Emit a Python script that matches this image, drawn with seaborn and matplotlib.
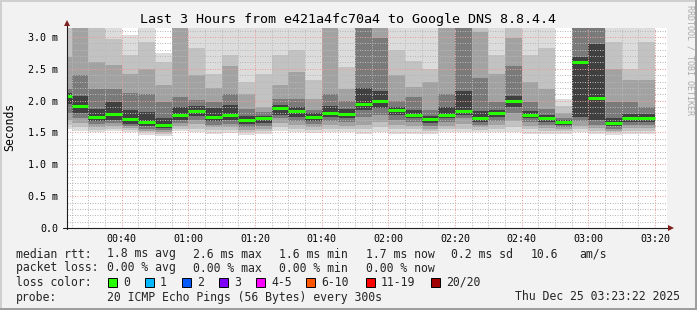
import matplotlib
matplotlib.use('Agg')
import matplotlib.pyplot as plt
from matplotlib.lines import Line2D
from matplotlib.patches import Polygon, Rectangle
import numpy as np
import pandas as pd
import seaborn as sns

W, H = 697, 310

# ---------------- data ----------------
end_times = ['00:25', '00:30', '00:35', '00:40', '00:45', '00:50', '00:55', '01:00', '01:05',
             '01:10', '01:15', '01:20', '01:25', '01:30', '01:35', '01:40', '01:45', '01:50',
             '01:55', '02:00', '02:05', '02:10', '02:15', '02:20', '02:25', '02:30', '02:35',
             '02:40', '02:45', '02:50', '02:55', '03:00', '03:05', '03:10', '03:15', '03:20']

median_ms = [2.07, 1.92, 1.75, 1.79, 1.71, 1.66, 1.62, 1.78, 1.84, 1.75, 1.77, 1.70,
             1.72, 1.89, 1.84, 1.75, 1.81, 1.79, 1.95, 1.99, 1.85, 1.78, 1.71, 1.77,
             1.84, 1.73, 1.80, 1.99, 1.78, 1.72, 1.66, 2.61, 2.04, 1.65, 1.73, 1.72]

# smoke bands (outermost = 1 ... innermost = 5), upper and lower edges in ms
hi1 = [3.30, 3.50, 3.30, 3.40, 3.03, 3.30, 2.74, 3.50, 3.30, 3.40, 3.40, 3.20,
       3.20, 3.30, 3.30, 3.30, 3.50, 3.30, 3.60, 3.50, 3.30, 3.30, 3.30, 3.50,
       3.60, 3.40, 3.50, 3.30, 3.30, 3.30, 2.03, 3.60, 3.60, 3.30, 3.30, 3.30]
hi2 = [3.20, 3.40, 3.20, 2.97, 2.71, 2.92, 2.61, 3.40, 2.83, 2.42, 2.71, 2.30,
       2.42, 2.71, 2.79, 2.32, 3.40, 2.53, 3.50, 3.40, 2.79, 2.62, 2.50, 3.40,
       3.50, 3.30, 2.71, 3.40, 2.71, 2.82, 1.91, 3.50, 3.50, 2.92, 2.50, 2.92]
hi3 = [2.68, 3.30, 2.60, 2.56, 2.42, 2.50, 2.24, 3.30, 2.40, 2.20, 2.55, 2.11,
       1.90, 2.24, 2.45, 2.03, 3.30, 2.19, 3.40, 3.30, 2.40, 2.21, 2.29, 3.30,
       3.40, 3.08, 2.42, 2.99, 2.29, 2.19, 1.80, 3.40, 3.40, 2.50, 2.32, 2.32]
hi4 = [2.19, 2.40, 2.19, 2.18, 2.12, 2.10, 1.98, 2.05, 2.01, 1.98, 2.10, 1.87,
       1.82, 2.02, 2.03, 1.86, 2.10, 2.00, 3.30, 2.99, 2.00, 2.06, 1.85, 2.10,
       3.30, 2.35, 1.98, 2.55, 1.98, 1.87, 1.73, 3.30, 3.30, 1.98, 1.98, 1.90]
hi5 = [2.12, 2.08, 1.87, 1.98, 1.85, 1.82, 1.72, 1.90, 1.92, 1.88, 1.93, 1.76,
       1.76, 1.93, 1.90, 1.80, 1.92, 1.87, 2.20, 2.15, 1.90, 1.85, 1.76, 1.90,
       2.15, 1.83, 1.85, 2.08, 1.83, 1.77, 1.69, 2.68, 2.89, 1.72, 1.79, 1.79]
lo5 = [1.95, 1.80, 1.68, 1.70, 1.64, 1.60, 1.57, 1.70, 1.76, 1.68, 1.70, 1.63,
       1.65, 1.78, 1.75, 1.68, 1.74, 1.72, 1.85, 1.88, 1.77, 1.72, 1.65, 1.72,
       1.78, 1.67, 1.74, 1.90, 1.72, 1.66, 1.62, 1.75, 1.70, 1.60, 1.66, 1.66]
lo4 = [1.80, 1.72, 1.63, 1.65, 1.60, 1.56, 1.54, 1.65, 1.70, 1.62, 1.64, 1.58,
       1.60, 1.72, 1.68, 1.63, 1.68, 1.66, 1.75, 1.78, 1.70, 1.66, 1.60, 1.66,
       1.72, 1.62, 1.68, 1.80, 1.66, 1.61, 1.58, 1.68, 1.62, 1.56, 1.61, 1.61]
lo3 = [1.70, 1.65, 1.58, 1.60, 1.57, 1.53, 1.51, 1.60, 1.63, 1.58, 1.59, 1.54,
       1.56, 1.65, 1.62, 1.58, 1.62, 1.60, 1.62, 1.66, 1.62, 1.60, 1.56, 1.60,
       1.64, 1.58, 1.62, 1.68, 1.60, 1.57, 1.55, 1.60, 1.57, 1.53, 1.57, 1.57]
lo2 = [1.62, 1.58, 1.54, 1.56, 1.54, 1.50, 1.48, 1.56, 1.56, 1.54, 1.54, 1.50,
       1.52, 1.58, 1.56, 1.54, 1.56, 1.55, 1.55, 1.58, 1.55, 1.55, 1.52, 1.56,
       1.56, 1.54, 1.56, 1.58, 1.55, 1.53, 1.52, 1.55, 1.53, 1.50, 1.53, 1.53]
lo1 = [1.55, 1.52, 1.50, 1.52, 1.51, 1.46, 1.44, 1.52, 1.50, 1.48, 1.49, 1.46,
       1.47, 1.52, 1.50, 1.49, 1.50, 1.50, 1.48, 1.50, 1.48, 1.48, 1.47, 1.50,
       1.50, 1.50, 1.50, 1.50, 1.48, 1.48, 1.48, 1.50, 1.48, 1.46, 1.48, 1.48]

xtick_labels = ['00:40', '01:00', '01:20', '01:40', '02:00', '02:20', '02:40', '03:00', '03:20']
ytick_values = [0.0, 0.5, 1.0, 1.5, 2.0, 2.5, 3.0]
ytick_labels = ['0.0', '0.5 m', '1.0 m', '1.5 m', '2.0 m', '2.5 m', '3.0 m']

title = 'Last 3 Hours from e421a4fc70a4 to Google DNS 8.8.4.4'
ylabel = 'Seconds'
watermark = 'RRDTOOL / TOBI OETIKER'

rtt_items = ['median rtt:', '1.8 ms avg', '2.6 ms max', '1.6 ms min', '1.7 ms now',
             '0.2 ms sd', '10.6', 'am/s']
loss_items = ['packet loss:', '0.00 % avg', '0.00 % max', '0.00 % min', '0.00 % now']
loss_labels = ['0', '1', '2', '3', '4-5', '6-10', '11-19', '20/20']
loss_colors = ['#26ff00', '#00b8ff', '#0059ff', '#7e00ff', '#ff00ff', '#ff5500', '#ff0000', '#a10000']
probe_text = '20 ICMP Echo Pings (56 Bytes) every 300s'
date_text = 'Thu Dec 25 03:23:22 2025'

smoke_colors = ['#dcdcdc', '#c2c2c2', '#a2a2a2', '#7a7a7a', '#404040']


def to_min(s):
    h, m = s.split(':')
    return int(h) * 60 + int(m)


def fx(x):
    return x / W


def fy(y):
    return 1 - y / H


sns.set_style('white')
plt.rcParams['font.family'] = ['DejaVu Sans Mono', 'DejaVu Sans']

fig = plt.figure(figsize=(W / 100, H / 100), dpi=100, facecolor='#f2f2f2')
ax = fig.add_axes([fx(67), fy(228), 600 / W, 200 / H])
ax.set_facecolor('white')

t_end = np.array([to_min(s) for s in end_times], dtype=float)
x0 = t_end - 5

his = [hi1, hi2, hi3, hi4, hi5]
los = [lo1, lo2, lo3, lo4, lo5]
for k in range(5):
    lo = np.array(los[k])
    hi = np.array(his[k])
    ax.bar(x0, hi - lo, bottom=lo, width=5, align='edge', color=smoke_colors[k],
           linewidth=0, antialiased=False, zorder=1)

# median lines via seaborn
rows = []
for i, (s, e, m) in enumerate(zip(x0, t_end, median_ms)):
    rows.append({'t': s, 'ms': m, 'bar': i})
    rows.append({'t': e, 'ms': m, 'bar': i})
df = pd.DataFrame(rows)
sns.lineplot(data=df, x='t', y='ms', units='bar', estimator=None, sort=False,
             color='#26ff00', linewidth=2.2, ax=ax, legend=False, zorder=4,
             solid_capstyle='butt')

ax.set_xlim(23.6, 203.6)
ax.set_ylim(0, 3.14)

xmaj = [to_min(s) for s in xtick_labels]
ax.set_xticks(xmaj)
ax.set_xticklabels(xtick_labels)
ax.set_xticks([m for m in range(25, 205, 5) if m not in xmaj], minor=True)
ax.set_yticks(ytick_values)
ax.set_yticklabels(ytick_labels)
ax.set_yticks([round(v * 0.1, 1) for v in range(1, 32) if v % 5 != 0], minor=True)

ax.set_xlabel('')
ax.set_ylabel('')
ax.set_axisbelow(False)
ax.grid(which='major', color='#ea9c9c', linestyle=(0, (1, 1.5)), linewidth=0.72, zorder=3)
ax.grid(which='minor', color='#b8b8b8', linestyle=(0, (1, 1.5)), linewidth=0.72, zorder=3)

ax.tick_params(axis='y', which='major', length=4, width=0.72, color='#1f1f1f',
               labelsize=7.2, pad=2.2, labelcolor='black')
ax.tick_params(axis='y', which='minor', length=2, width=0.72, color='#1f1f1f')
ax.tick_params(axis='x', which='major', length=3, width=0.72, color='#1f1f1f',
               labelsize=7.2, pad=1.0, labelcolor='black')
ax.tick_params(axis='x', which='minor', length=2, width=0.72, color='#1f1f1f')
for sp in ax.spines.values():
    sp.set_visible(False)

# axis lines and arrows
fig.lines.append(Line2D([fx(67), fx(67)], [fy(229), fy(22)], color='#1f1f1f', lw=0.8,
                        transform=fig.transFigure, zorder=5))
fig.lines.append(Line2D([fx(63), fx(669)], [fy(228), fy(228)], color='#1f1f1f', lw=0.8,
                        transform=fig.transFigure, zorder=5))
fig.patches.append(Polygon([(fx(64), fy(26)), (fx(70), fy(26)), (fx(67), fy(20))], closed=True,
                           facecolor='#801f1f', edgecolor='none', transform=fig.transFigure, zorder=6))
fig.patches.append(Polygon([(fx(668), fy(225)), (fx(668), fy(231)), (fx(674), fy(228))], closed=True,
                           facecolor='#801f1f', edgecolor='none', transform=fig.transFigure, zorder=6))

# frame
fig.patches.append(Rectangle((0, fy(2)), 1, 2 / H, facecolor='#cfcfcf', edgecolor='none',
                             transform=fig.transFigure, zorder=0))
fig.patches.append(Rectangle((0, 0), 2 / W, 1, facecolor='#cfcfcf', edgecolor='none',
                             transform=fig.transFigure, zorder=0))
fig.patches.append(Rectangle((0, 0), 1, 2 / H, facecolor='#9e9e9e', edgecolor='none',
                             transform=fig.transFigure, zorder=0))
fig.patches.append(Rectangle((fx(695), 0), 2 / W, 1, facecolor='#9e9e9e', edgecolor='none',
                             transform=fig.transFigure, zorder=0))

# texts
fig.text(fx(348), fy(19), title, ha='center', va='center', fontsize=9.6, color='black')
fig.text(fx(10), fy(127), ylabel, ha='center', va='center', rotation=90, fontsize=8.3, color='black')
fig.text(fx(690), fy(60), watermark, ha='center', va='center', rotation=-90, fontsize=6.0,
         color='#aaaaaa')

rtt_x = [16, 107, 193, 279, 366, 451, 531, 579]
for s, x in zip(rtt_items, rtt_x):
    fig.text(fx(x), fy(254), s, ha='left', va='center', fontsize=8.3)
for s, x in zip(loss_items, rtt_x):
    fig.text(fx(x), fy(268), s, ha='left', va='center', fontsize=8.3)
fig.text(fx(16), fy(282), 'loss color:', ha='left', va='center', fontsize=8.3)
sq_x = [108, 145, 182, 219, 256, 306, 366, 431]
for lab, col, x in zip(loss_labels, loss_colors, sq_x):
    fig.patches.append(Rectangle((fx(x), fy(287)), 9 / W, 9 / H, facecolor=col, edgecolor='black',
                                 linewidth=0.7, transform=fig.transFigure, zorder=5))
    fig.text(fx(x + 15), fy(282), lab, ha='left', va='center', fontsize=8.3)
fig.text(fx(16), fy(297), 'probe:', ha='left', va='center', fontsize=8.3)
fig.text(fx(107), fy(297), probe_text, ha='left', va='center', fontsize=8.3)
fig.text(fx(680), fy(297), date_text, ha='right', va='center', fontsize=8.3)

fig.savefig('out.png', dpi=100, facecolor=fig.get_facecolor())
